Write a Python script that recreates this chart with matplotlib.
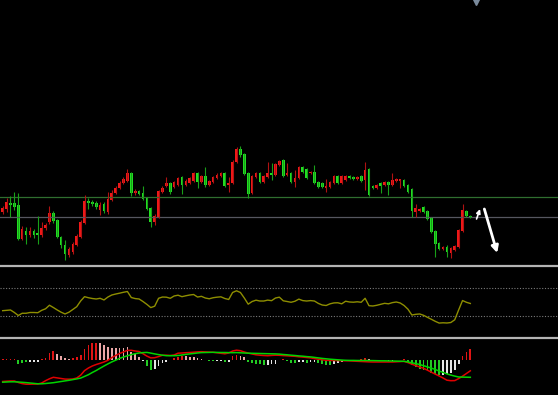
import numpy as np
import matplotlib
matplotlib.use("Agg")
import matplotlib.pyplot as plt
from matplotlib.lines import Line2D

# candle data (price units, arbitrary)
opens = [53, 56, 62, 62, 60, 26, 34, 30, 34, 32,
         30, 37, 43, 52, 45, 28, 20, 10, 13, 20,
         28, 42, 64, 63, 62, 55, 61, 53, 65, 72,
         77, 82, 84, 92, 72, 74, 72, 67, 57, 43,
         48, 73, 79, 82, 78, 80, 88, 80, 82, 84,
         92, 83, 89, 80, 83, 87, 89, 92, 80, 82,
         103, 116, 111, 92, 72, 88, 92, 83, 88, 92,
         90, 100, 105, 90, 92, 83, 87, 98, 96, 92,
         93, 83, 82, 77, 78, 82, 89, 82, 85, 89,
         88, 86, 89, 85, 96, 79, 77, 82, 80, 83,
         80, 84, 84, 85, 80, 76, 53, 54, 58, 54,
         47, 34, 22, 16, 18, 12, 15, 18, 34, 54,
         49]
closes = [57, 63, 60, 58, 26, 36, 30, 34, 30, 30,
          37, 40, 52, 44, 28, 20, 11, 16, 21, 29,
          43, 64, 62, 61, 58, 60, 54, 66, 72, 77,
          82, 86, 92, 72, 74, 71, 66, 56, 43, 49,
          74, 77, 82, 73, 83, 87, 80, 84, 87, 92,
          83, 89, 80, 84, 88, 90, 92, 79, 82, 103,
          116, 110, 91, 71, 89, 92, 83, 89, 92, 90,
          101, 104, 89, 92, 83, 87, 98, 93, 87, 93,
          82, 78, 78, 79, 83, 89, 82, 89, 89, 87,
          86, 88, 84, 95, 70, 77, 80, 79, 83, 80,
          85, 86, 86, 79, 73, 54, 57, 56, 53, 46,
          33, 21, 16, 18, 13, 17, 19, 35, 55, 49,
          48]
highs = [59, 67, 69, 73, 72, 39, 38, 38, 36, 49,
         43, 42, 59, 54, 46, 29, 25, 18, 23, 31,
         45, 70, 67, 65, 64, 63, 63, 73, 75, 79,
         84, 88, 96, 93, 76, 75, 79, 68, 58, 51,
         75, 79, 88, 83, 84, 88, 89, 86, 88, 93,
         93, 90, 98, 85, 89, 92, 93, 93, 88, 105,
         118, 119, 112, 93, 90, 93, 93, 90, 103, 102,
         102, 105, 106, 102, 93, 95, 99, 99, 97, 94,
         100, 84, 83, 86, 84, 90, 90, 90, 90, 90,
         89, 89, 90, 103, 97, 80, 81, 83, 84, 84,
         92, 87, 86, 86, 81, 77, 61, 57, 59, 55,
         48, 35, 23, 19, 20, 18, 20, 36, 61, 55,
         50]
lows = [51, 53, 48, 55, 25, 25, 21, 28, 27, 21,
        28, 35, 41, 42, 27, 17, 5, 8, 11, 19,
        27, 41, 56, 59, 56, 50, 52, 51, 64, 71,
        76, 81, 83, 69, 70, 70, 65, 55, 38, 40,
        47, 72, 78, 71, 77, 79, 71, 79, 81, 83,
        77, 82, 78, 79, 82, 86, 88, 78, 73, 81,
        102, 108, 90, 67, 71, 87, 82, 82, 87, 85,
        89, 99, 88, 89, 82, 78, 86, 92, 86, 91,
        81, 77, 77, 73, 77, 81, 81, 81, 84, 86,
        85, 85, 83, 75, 69, 76, 76, 72, 79, 70,
        79, 83, 77, 78, 72, 48, 48, 53, 52, 45,
        32, 8, 15, 15, 8, 7, 14, 17, 33, 48,
        47]

level_green = 68
level_gray = 48

rsi = [37.6, 38.1, 38.6, 35.0, 30.7, 33.9, 33.9, 35.0, 35.0, 34.7,
       38.1, 40.3, 45.4, 42.1, 38.6, 35.4, 32.9, 35.4, 39.3, 43.3,
       51.4, 57.6, 56.1, 55.0, 54.3, 55.3, 52.9, 57.1, 60.0, 61.4,
       62.6, 63.9, 65.0, 56.4, 54.9, 54.3, 50.7, 46.6, 42.0, 44.0,
       55.3, 57.1, 56.9, 55.3, 58.6, 59.7, 57.6, 58.9, 60.0, 60.7,
       57.1, 58.1, 55.7, 54.6, 56.1, 56.9, 57.4, 55.0, 53.6, 63.6,
       66.0, 63.6, 55.7, 46.9, 50.7, 52.6, 51.4, 51.4, 52.7, 51.9,
       55.7, 56.9, 51.7, 50.7, 49.6, 51.1, 54.1, 52.0, 51.4, 52.0,
       51.4, 48.0, 45.7, 45.0, 47.4, 48.7, 48.9, 47.4, 51.1, 50.0,
       49.7, 50.3, 49.6, 55.3, 44.7, 44.3, 45.3, 46.7, 48.1, 47.4,
       49.1, 50.0, 48.6, 45.0, 39.7, 31.4, 32.4, 32.9, 31.0, 28.1,
       25.3, 22.4, 19.9, 20.3, 20.0, 20.7, 24.6, 38.6, 52.1, 49.6,
       47.9]
rsi_levels = [70, 30]

dif = [-21.8, -21.5, -21.3, -21.3, -22.8, -23.9, -24.5, -24.5, -24.4, -24.3,
       -23.3, -21.0, -19.1, -17.6, -18.2, -18.8, -19.4, -19.5, -19.3, -18.3,
       -15.5, -10.9, -8.3, -6.3, -4.8, -3.6, -2.3, -0.6, 2.1, 4.2,
       6.2, 7.8, 9.3, 9.4, 8.7, 8.2, 6.0, 3.6, 1.8, 2.0,
       3.1, 4.4, 4.5, 4.2, 4.7, 6.5, 6.7, 7.0, 7.2, 7.5,
       7.8, 8.0, 7.8, 7.6, 7.4, 6.9, 6.4, 5.9, 6.7, 8.7,
       9.5, 9.0, 7.7, 6.6, 5.7, 4.9, 4.5, 4.2, 4.0, 4.3,
       4.5, 4.4, 4.1, 3.9, 3.6, 3.4, 2.9, 2.6, 2.2, 1.8,
       1.1, 0.5, -0.1, -0.6, -0.7, -0.8, -0.9, -1.0, -1.1, -1.2,
       -1.4, -1.6, -1.8, -2.0, -2.2, -2.3, -2.3, -2.3, -2.3, -2.3,
       -2.3, -2.1, -1.9, -1.7, -2.9, -4.5, -5.9, -7.2, -8.6, -10.5,
       -12.5, -14.4, -16.3, -18.3, -20.5, -21.0, -20.9, -18.9, -16.5, -13.8,
       -11.1]
dea = [-22.5, -22.3, -22.1, -22.1, -22.3, -22.6, -22.9, -23.3, -23.7, -24.1,
       -24.1, -23.8, -23.4, -23.0, -22.4, -21.8, -21.2, -20.6, -19.9, -19.2,
       -18.4, -16.7, -15.0, -12.8, -10.8, -8.5, -6.3, -4.2, -2.2, -0.5,
       1.3, 2.7, 3.9, 5.1, 6.0, 6.7, 7.1, 7.3, 6.6, 5.8,
       5.1, 4.5, 4.0, 4.0, 4.0, 4.2, 4.7, 5.3, 5.8, 6.2,
       6.7, 7.1, 7.2, 7.3, 7.4, 7.3, 7.2, 7.2, 7.1, 7.0,
       7.1, 6.9, 6.7, 6.5, 6.4, 6.3, 6.2, 6.1, 6.0, 5.9,
       5.8, 5.6, 5.2, 4.9, 4.5, 4.2, 3.8, 3.5, 3.1, 2.8,
       2.3, 1.8, 1.3, 0.9, 0.5, 0.2, -0.1, -0.4, -0.6, -0.7,
       -0.7, -0.8, -0.8, -0.8, -0.9, -0.9, -1.0, -1.1, -1.1, -1.2,
       -1.3, -1.4, -1.5, -1.6, -2.2, -3.1, -3.9, -4.8, -6.0, -7.2,
       -8.4, -9.8, -11.3, -12.7, -14.2, -15.4, -16.4, -17.3, -17.4, -17.5,
       -17.6]
hist = [1.0, 0.3, 0.5, 0.7, -4.0, -3.3, -2.7, -2.7, -2.7, -2.3,
        0.3, 2.0, 6.7, 8.7, 6.0, 3.3, 1.7, 0.7, 1.7, 2.7,
        4.3, 11.0, 14.3, 16.7, 17.0, 16.3, 14.3, 12.3, 12.0, 12.0,
        11.7, 12.0, 12.3, 7.7, 6.0, 2.7, -1.0, -6.7, -10.0, -9.0,
        -6.7, -3.3, -2.0, -0.5, 2.0, 2.7, 3.3, 3.3, 2.7, 2.7,
        1.7, 0.5, -0.7, -1.3, -1.7, -1.7, -1.7, -2.3, -2.3, 3.3,
        4.3, 3.3, 2.7, -2.3, -3.3, -4.3, -4.7, -5.7, -5.0, -4.3,
        -4.0, -0.5, 0.5, -1.5, -3.3, -3.3, -2.3, -2.3, -3.3, -2.3,
        -2.3, -3.3, -4.3, -5.0, -5.7, -4.3, -3.7, -2.7, -1.0, -1.0,
        -0.5, -0.3, 0.3, 1.7, 0.5, 0.0, -0.3, -0.5, -0.7, -1.0,
        -1.0, -0.7, -0.3, 1.0, -3.3, -5.7, -7.3, -9.0, -10.0, -11.7,
        -13.3, -14.3, -15.0, -15.7, -14.3, -13.3, -10.0, -4.3, 3.3, 7.7,
        10.7]
# r: rising positive, p: falling positive, g: growing negative, w: shrinking negative
hist_kind = ("rrrrgggwww" "rrrrpppprr" "rrrrrppppp" "ppppppwggw"
             "wwwwrrrppp" "ppwggwwgwr" "rppgggggww" "wwrgggwwgw"
             "wggggwwwww" "wwrrpwwwww" "wwwrgggggg" "gggwwwwwrr" "r")

# hand-drawn arrows (candle index, price)
arrow_up = ((121.6, 46), (122.5, 56))
arrow_down = ((123.6, 56), (126.9, 12))

BG = "black"
UP_BODY, UP_WICK = "#f01818", "#b01212"
DN_BODY, DN_WICK = "#22e022", "#18a018"

x = np.arange(len(opens))
o = np.array(opens, float)
c = np.array(closes, float)
up = c >= o
xlim = (-0.69, 142.5)

fig = plt.figure(figsize=(5.58, 3.95), dpi=100, facecolor=BG)
H = 395.0
ax = fig.add_axes([0, (H - 265) / H, 1, 265 / H])
ax_rsi = fig.add_axes([0, (H - 337) / H, 1, 70 / H])
ax_macd = fig.add_axes([0, 0, 1, 56 / H])
for a in (ax, ax_rsi, ax_macd):
    a.set_facecolor(BG)
    a.set_xlim(*xlim)
    a.set_xticks([])
    a.set_yticks([])
    for s in a.spines.values():
        s.set_visible(False)

# main panel
ax.set_ylim(0, 265)
ax.axhline(level_green, color="#2f6e2f", lw=0.9)
ax.axhline(level_gray, color="#55565f", lw=0.9)
ax.vlines(x, lows, highs, colors=np.where(up, UP_WICK, DN_WICK), lw=0.8)
body_lo = np.minimum(o, c)
body_h = np.maximum(np.abs(c - o), 0.8)
ax.bar(x, body_h, bottom=body_lo, width=0.68,
       color=np.where(up, UP_BODY, DN_BODY), linewidth=0)
ax.annotate("", xy=arrow_up[1], xytext=arrow_up[0],
            arrowprops=dict(arrowstyle="-|>", color="white", lw=1.2,
                            mutation_scale=6, shrinkA=0, shrinkB=0))
ax.annotate("", xy=arrow_down[1], xytext=arrow_down[0],
            arrowprops=dict(arrowstyle="-|>", color="white", lw=2.0,
                            mutation_scale=10, shrinkA=0, shrinkB=0))
ax.plot([121.45], [264], marker="v", ms=5.5, color="#7a8a9c", lw=0)

# rsi panel
ax_rsi.set_ylim(0, 100)
for lv in rsi_levels:
    ax_rsi.axhline(lv, color="#7a7a7a", lw=0.8, ls=(0, (1, 1.5)))
ax_rsi.plot(x, rsi, color="#8e8e00", lw=1.0)

# macd panel
ax_macd.set_ylim(-35.3, 20.7)
kind_col = {"r": "#e01414", "p": "#eaa6a6", "g": "#22cc22", "w": "#e4e4e4"}
ax_macd.bar(x, hist, width=0.45, color=[kind_col[k] for k in hist_kind], linewidth=0)
ax_macd.plot(x, dif, color="#e00000", lw=1.1)
ax_macd.plot(x, dea, color="#00d400", lw=1.1)

# panel separators
for yy in (266, 337.5):
    fig.add_artist(Line2D([0, 1], [1 - yy / H, 1 - yy / H], transform=fig.transFigure,
                          color="#b4b4b4", lw=1.6))

fig.savefig("out.png", dpi=100, facecolor=BG)
